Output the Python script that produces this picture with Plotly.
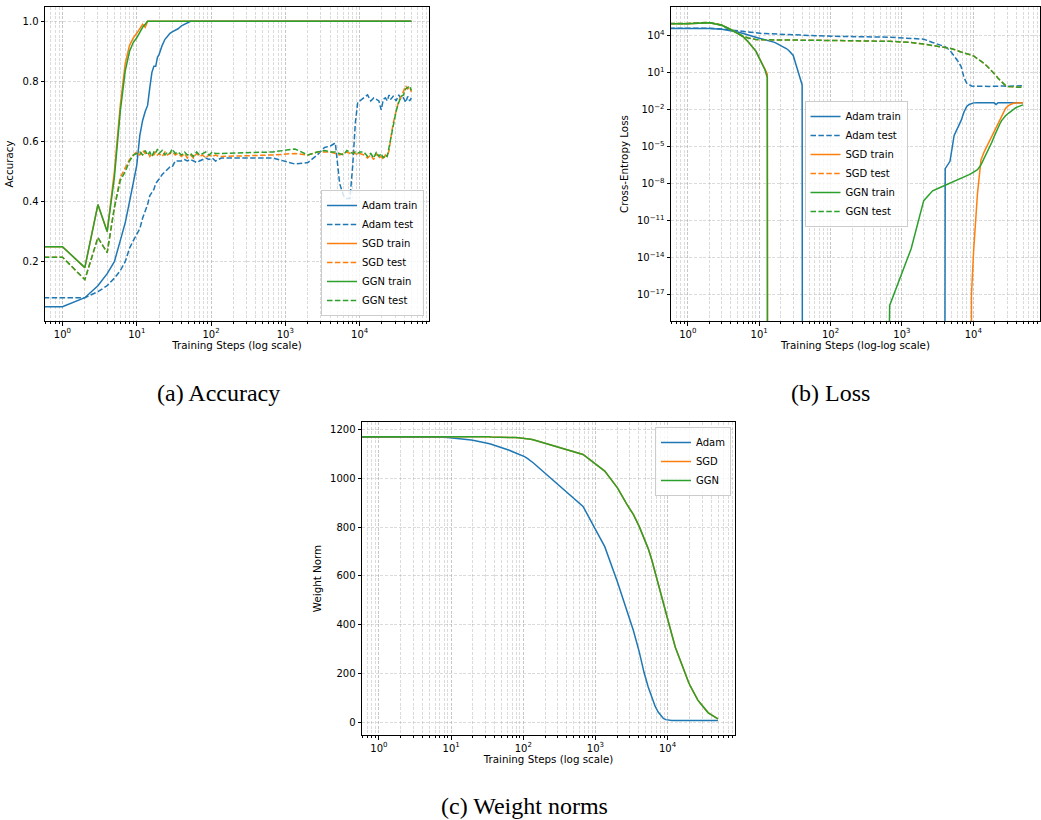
import numpy as np
import plotly.graph_objects as go

# ---------------------------------------------------------------------------
# Logged training steps (dense early, then every 673 steps)
# ---------------------------------------------------------------------------
steps = [
    0, 1, 2, 3, 4, 5, 6, 7, 8, 9,
    10, 11, 12, 13, 14, 15, 16, 17, 18, 19,
    20, 22, 24, 26, 28, 30, 33, 36, 40, 44,
    48, 53, 58, 64, 70, 77, 85, 94, 104, 115, 127, 137,
    673, 1346, 2019, 2692, 3365, 4038, 4711, 5384, 6057, 6730,
    7403, 8076, 8749, 9422, 10095, 11441, 12787, 14133, 15479, 16825,
    18171, 19517, 20863, 22209, 23555, 24901, 26247, 28266, 30958, 33650,
    36342, 39034, 41726, 44418, 47110, 49802,
]

# ---------------------------------------------------------------------------
# Accuracy
# ---------------------------------------------------------------------------
adam_train_acc = [
    0.05, 0.05, 0.08, 0.12, 0.16, 0.20, 0.27, 0.33, 0.40, 0.46,
    0.52, 0.62, 0.67, 0.70, 0.72, 0.78, 0.83, 0.85, 0.85, 0.88,
    0.89, 0.92, 0.94, 0.95, 0.96, 0.965, 0.97, 0.975, 0.985, 0.99,
    0.995, 1.0, 1.0, 1.0, 1.0, 1.0, 1.0, 1.0, 1.0, 1.0, 1.0, 1.0,
    1.0, 1.0, 1.0, 1.0, 1.0, 1.0, 1.0, 1.0, 1.0, 1.0,
    1.0, 1.0, 1.0, 1.0, 1.0, 1.0, 1.0, 1.0, 1.0, 1.0,
    1.0, 1.0, 1.0, 1.0, 1.0, 1.0, 1.0, 1.0, 1.0, 1.0,
    1.0, 1.0, 1.0, 1.0, 1.0, 1.0,
]
adam_test_acc = [
    0.08, 0.08, 0.08, 0.10, 0.12, 0.145, 0.17, 0.20, 0.245, 0.27,
    0.29, 0.31, 0.345, 0.37, 0.39, 0.42, 0.43, 0.44, 0.46, 0.47,
    0.475, 0.49, 0.50, 0.51, 0.515, 0.515, 0.535, 0.535, 0.535, 0.54,
    0.535, 0.54, 0.535, 0.53, 0.535, 0.54, 0.545, 0.54, 0.545, 0.535, 0.54, 0.545,
    0.545, 0.525, 0.53, 0.555, 0.58, 0.585, 0.595, 0.46, 0.42, 0.41,
    0.41, 0.52, 0.66, 0.73, 0.735, 0.745, 0.755, 0.735, 0.745, 0.74,
    0.735, 0.705, 0.74, 0.745, 0.735, 0.755, 0.74, 0.75, 0.735, 0.755,
    0.74, 0.745, 0.73, 0.75, 0.735, 0.745,
]
sgd_train_acc = [
    0.25, 0.25, 0.18, 0.39, 0.30, 0.50, 0.72, 0.86, 0.92, 0.945,
    0.96, 0.975, 0.99, 0.98, 1.0, 1.0, 1.0, 1.0, 1.0, 1.0,
    1.0, 1.0, 1.0, 1.0, 1.0, 1.0, 1.0, 1.0, 1.0, 1.0,
    1.0, 1.0, 1.0, 1.0, 1.0, 1.0, 1.0, 1.0, 1.0, 1.0, 1.0, 1.0,
    1.0, 1.0, 1.0, 1.0, 1.0, 1.0, 1.0, 1.0, 1.0, 1.0,
    1.0, 1.0, 1.0, 1.0, 1.0, 1.0, 1.0, 1.0, 1.0, 1.0,
    1.0, 1.0, 1.0, 1.0, 1.0, 1.0, 1.0, 1.0, 1.0, 1.0,
    1.0, 1.0, 1.0, 1.0, 1.0, 1.0,
]
sgd_test_acc = [
    0.215, 0.215, 0.14, 0.28, 0.23, 0.38, 0.48, 0.51, 0.54, 0.555,
    0.565, 0.555, 0.57, 0.56, 0.565, 0.55, 0.56, 0.555, 0.565, 0.555,
    0.56, 0.55, 0.565, 0.555, 0.56, 0.565, 0.555, 0.56, 0.55, 0.56,
    0.545, 0.555, 0.545, 0.56, 0.55, 0.555, 0.545, 0.555, 0.55, 0.555, 0.55, 0.55,
    0.555, 0.56, 0.555, 0.565, 0.565, 0.565, 0.56, 0.555, 0.56, 0.565,
    0.56, 0.565, 0.56, 0.555, 0.56, 0.555, 0.545, 0.555, 0.54, 0.56,
    0.545, 0.55, 0.54, 0.555, 0.55, 0.57, 0.61, 0.66, 0.70, 0.735,
    0.75, 0.77, 0.785, 0.775, 0.78, 0.765,
]
ggn_train_acc = [
    0.25, 0.25, 0.18, 0.39, 0.30, 0.48, 0.70, 0.835, 0.90, 0.93,
    0.945, 0.965, 0.98, 0.99, 1.0, 1.0, 1.0, 1.0, 1.0, 1.0,
    1.0, 1.0, 1.0, 1.0, 1.0, 1.0, 1.0, 1.0, 1.0, 1.0,
    1.0, 1.0, 1.0, 1.0, 1.0, 1.0, 1.0, 1.0, 1.0, 1.0, 1.0, 1.0,
    1.0, 1.0, 1.0, 1.0, 1.0, 1.0, 1.0, 1.0, 1.0, 1.0,
    1.0, 1.0, 1.0, 1.0, 1.0, 1.0, 1.0, 1.0, 1.0, 1.0,
    1.0, 1.0, 1.0, 1.0, 1.0, 1.0, 1.0, 1.0, 1.0, 1.0,
    1.0, 1.0, 1.0, 1.0, 1.0, 1.0,
]
ggn_test_acc = [
    0.215, 0.215, 0.14, 0.28, 0.23, 0.38, 0.47, 0.50, 0.535, 0.555,
    0.56, 0.565, 0.555, 0.57, 0.555, 0.565, 0.55, 0.565, 0.56, 0.575,
    0.56, 0.57, 0.555, 0.565, 0.56, 0.575, 0.56, 0.565, 0.555, 0.565,
    0.555, 0.56, 0.55, 0.565, 0.555, 0.56, 0.565, 0.555, 0.565, 0.56, 0.56, 0.56,
    0.565, 0.575, 0.555, 0.565, 0.57, 0.565, 0.565, 0.56, 0.555, 0.57,
    0.565, 0.56, 0.565, 0.56, 0.565, 0.565, 0.55, 0.56, 0.545, 0.565,
    0.55, 0.56, 0.545, 0.555, 0.55, 0.58, 0.62, 0.66, 0.70, 0.73,
    0.75, 0.755, 0.775, 0.78, 0.785, 0.77,
]

# ---------------------------------------------------------------------------
# Cross-entropy loss (0 means the loss underflowed to exactly zero)
# ---------------------------------------------------------------------------
adam_train_loss = [
    4.27e4, 4.17e4, 3.8e4, 3.31e4, 2.63e4, 2.0e4, 1.51e4, 1.12e4, 8.9e3, 7.2e3,
    6.2e3, 5.5e3, 4.9e3, 4.4e3, 3.9e3, 3.4e3, 3.0e3, 2.6e3, 2.2e3, 1.9e3,
    1.66e3, 1.26e3, 910, 630, 420, 250, 40, 7.6, 1.0, 0,
    0, 0, 0, 0, 0, 0, 0, 0, 0, 0, 0, 0,
    0, 0, 0, 0, 0, 1.6e-7, 6.3e-7, 7.9e-5, 3.2e-4, 1.26e-3,
    6.3e-3, 1.8e-2, 2.6e-2, 3.2e-2, 3.5e-2, 3.6e-2, 3.6e-2, 3.6e-2, 3.6e-2, 3.6e-2,
    3.6e-2, 3.5e-2, 2.6e-2, 3.6e-2, 3.6e-2, 3.6e-2, 3.6e-2, 3.6e-2, 3.6e-2, 3.6e-2,
    3.6e-2, 3.6e-2, 3.6e-2, 3.6e-2, 3.6e-2, 3.6e-2,
]
adam_test_loss = [
    4.27e4, 4.17e4, 3.98e4, 3.55e4, 2.88e4, 2.4e4, 2.09e4, 1.9e4, 1.78e4, 1.66e4,
    1.58e4, 1.51e4, 1.48e4, 1.45e4, 1.41e4, 1.38e4, 1.35e4, 1.32e4, 1.29e4, 1.26e4,
    1.23e4, 1.17e4, 1.15e4, 1.12e4, 1.10e4, 1.07e4, 1.05e4, 1.02e4, 1.0e4, 9.8e3,
    9.8e3, 9.5e3, 9.5e3, 9.3e3, 9.3e3, 9.1e3, 9.1e3, 9.1e3, 8.9e3, 8.9e3, 8.9e3, 8.7e3,
    7.6e3, 6.3e3, 5.2e3, 2.8e3, 1.9e3, 1.26e3, 630, 250, 89, 32,
    4.0, 1.41, 1.0, 0.83, 0.79, 0.76, 0.79, 0.78, 0.79, 0.76,
    0.79, 0.81, 0.76, 0.79, 0.78, 0.79, 0.81, 0.79, 0.78, 0.79,
    0.81, 0.79, 0.79, 0.83, 0.85, 1.0,
]
sgd_train_loss = [
    8.9e4, 9.3e4, 1.12e5, 7.1e4, 3.2e4, 1.58e4, 7.9e3, 3.2e3, 1.41e3, 560,
    160, 60, 20, 7.9, 0, 0, 0, 0, 0, 0,
    0, 0, 0, 0, 0, 0, 0, 0, 0, 0,
    0, 0, 0, 0, 0, 0, 0, 0, 0, 0, 0, 0,
    0, 0, 0, 0, 0, 0, 0, 0, 0, 0,
    0, 0, 0, 1.0e-17, 3.2e-14, 1.58e-9, 7.9e-7, 3.5e-6, 1.0e-5, 2.5e-5,
    6.3e-5, 1.41e-4, 3.2e-4, 7.1e-4, 1.41e-3, 2.8e-3, 5.6e-3, 1.26e-2, 2.1e-2, 2.8e-2,
    3.2e-2, 3.4e-2, 3.5e-2, 3.6e-2, 3.6e-2, 3.6e-2,
]
sgd_test_loss = [
    1.0e5, 1.0e5, 1.2e5, 7.4e4, 3.1e4, 1.55e4, 9.0e3, 6.6e3, 5.5e3, 5.0e3,
    4.7e3, 4.6e3, 4.6e3, 4.5e3, 4.6e3, 4.5e3, 4.5e3, 4.6e3, 4.5e3, 4.5e3,
    4.5e3, 4.4e3, 4.5e3, 4.4e3, 4.4e3, 4.4e3, 4.3e3, 4.4e3, 4.3e3, 4.3e3,
    4.3e3, 4.2e3, 4.3e3, 4.2e3, 4.2e3, 4.2e3, 4.2e3, 4.1e3, 4.1e3, 4.1e3, 4.0e3, 4.0e3,
    3.5e3, 2.8e3, 2.1e3, 1.66e3, 1.41e3, 1.2e3, 950, 760, 560, 480,
    400, 355, 316, 263, 224, 141, 89, 56, 35, 22,
    14, 8.9, 5.6, 3.5, 2.4, 1.66, 1.2, 0.89, 0.76, 0.71,
    0.68, 0.66, 0.65, 0.65, 0.63, 0.63,
]
ggn_train_loss = [
    8.9e4, 9.3e4, 1.12e5, 7.1e4, 3.2e4, 1.58e4, 7.9e3, 3.2e3, 1.41e3, 560,
    160, 56, 18, 4.0, 0, 0, 0, 0, 0, 0,
    0, 0, 0, 0, 0, 0, 0, 0, 0, 0,
    0, 0, 0, 0, 0, 0, 0, 0, 0, 0, 0, 0,
    1.26e-18, 5.0e-14, 4.0e-10, 2.5e-9, 4.5e-9, 7.1e-9, 1.0e-8, 1.41e-8, 2.0e-8, 2.6e-8,
    3.3e-8, 4.2e-8, 5.2e-8, 6.6e-8, 8.3e-8, 1.32e-7, 3.2e-7, 1.0e-6, 2.8e-6, 7.9e-6,
    2.2e-5, 6.3e-5, 1.58e-4, 3.5e-4, 7.1e-4, 1.26e-3, 2.0e-3, 3.2e-3, 5.0e-3, 7.6e-3,
    1.05e-2, 1.35e-2, 1.66e-2, 1.95e-2, 2.2e-2, 2.4e-2,
]
ggn_test_loss = [
    1.0e5, 1.0e5, 1.2e5, 7.1e4, 3.0e4, 1.51e4, 8.9e3, 6.6e3, 5.5e3, 5.0e3,
    4.7e3, 4.6e3, 4.6e3, 4.5e3, 4.6e3, 4.5e3, 4.5e3, 4.6e3, 4.5e3, 4.5e3,
    4.5e3, 4.4e3, 4.5e3, 4.4e3, 4.4e3, 4.4e3, 4.3e3, 4.4e3, 4.3e3, 4.3e3,
    4.3e3, 4.2e3, 4.3e3, 4.2e3, 4.2e3, 4.2e3, 4.2e3, 4.1e3, 4.1e3, 4.1e3, 4.0e3, 4.0e3,
    3.5e3, 2.8e3, 2.1e3, 1.66e3, 1.41e3, 1.2e3, 950, 760, 560, 480,
    400, 355, 316, 263, 224, 141, 89, 56, 35, 22,
    14, 8.9, 5.6, 3.5, 2.4, 1.66, 1.2, 0.89, 0.76, 0.71,
    0.68, 0.66, 0.65, 0.65, 0.63, 0.63,
]

# ---------------------------------------------------------------------------
# Weight norms
# ---------------------------------------------------------------------------
adam_norm = [
    1171, 1171, 1171, 1171, 1170, 1170, 1169, 1169, 1168, 1167,
    1166, 1165, 1164, 1163, 1162, 1161, 1160, 1159, 1158, 1157,
    1156, 1154, 1152, 1150, 1148, 1146, 1143, 1140, 1136, 1132,
    1128, 1124, 1120, 1115, 1110, 1105, 1100, 1095, 1089, 1081, 1072, 1064,
    885, 720, 575, 463, 375, 290, 205, 145, 100, 65,
    42, 26, 16, 11, 9, 7.5, 7, 7, 7, 7,
    7, 9, 7, 7, 7, 7, 7, 7, 7, 7,
    7, 7, 7, 7, 7, 7,
]
sgd_norm = [
    1171, 1172, 1173, 1174, 1174, 1174, 1173, 1173, 1173, 1172,
    1172, 1172, 1172, 1172, 1172, 1172, 1172, 1172, 1172, 1171,
    1171, 1171, 1171, 1171, 1171, 1171, 1171, 1170, 1170, 1170,
    1170, 1169, 1169, 1168, 1168, 1167, 1166, 1165, 1163, 1162, 1160, 1158,
    1098, 1030, 961, 896, 851, 803, 757, 712, 664, 612,
    566, 523, 484, 449, 417, 360, 308, 272, 239, 209,
    182, 164, 146, 130, 115, 101, 91, 79, 63, 49,
    40, 34, 29, 24, 19, 14,
]
ggn_norm = [
    1171, 1172, 1173, 1174, 1174, 1174, 1173, 1173, 1173, 1172,
    1172, 1172, 1172, 1172, 1172, 1172, 1172, 1172, 1172, 1171,
    1171, 1171, 1171, 1171, 1171, 1171, 1171, 1170, 1170, 1170,
    1170, 1169, 1169, 1168, 1168, 1167, 1166, 1165, 1163, 1162, 1160, 1158,
    1098, 1030, 961, 896, 851, 803, 757, 712, 664, 612,
    566, 523, 484, 449, 417, 360, 308, 272, 239, 209,
    182, 164, 146, 130, 115, 101, 91, 79, 63, 49,
    40, 34, 29, 24, 19, 14,
]

x_ticks = [1, 10, 100, 1000, 10000]
x_ticktext = ["10<sup>0</sup>", "10<sup>1</sup>", "10<sup>2</sup>",
              "10<sup>3</sup>", "10<sup>4</sup>"]
acc_ticks = [0.2, 0.4, 0.6, 0.8, 1.0]
acc_ticktext = ["0.2", "0.4", "0.6", "0.8", "1.0"]
loss_ticks = [1e4, 1e1, 1e-2, 1e-5, 1e-8, 1e-11, 1e-14, 1e-17]
loss_ticktext = ["10<sup>4</sup>", "10<sup>1</sup>", "10<sup>\u22122</sup>",
                 "10<sup>\u22125</sup>", "10<sup>\u22128</sup>",
                 "10<sup>\u221211</sup>", "10<sup>\u221214</sup>",
                 "10<sup>\u221217</sup>"]
norm_ticks = [0, 200, 400, 600, 800, 1000, 1200]
norm_ticktext = ["0", "200", "400", "600", "800", "1000", "1200"]

# ---------------------------------------------------------------------------
BLUE, ORANGE, GREEN = "#1f77b4", "#ff7f0e", "#2ca02c"
DASH = "5.5px,2.4px"
FONT = "DejaVu Sans"
GRID = "rgba(176,176,176,0.45)"
GRID_DASH = "3px,1.6px"


def clip_nonpositive(values):
    """Non-positive values are pushed far below any log-axis range."""
    arr = np.asarray(values, dtype=float)
    return np.where(arr > 0, arr, 1e-300)


x_log = clip_nonpositive(steps)

fig = go.Figure()

acc_series = [
    ("Adam train", adam_train_acc, BLUE, "solid"),
    ("Adam test", adam_test_acc, BLUE, DASH),
    ("SGD train", sgd_train_acc, ORANGE, "solid"),
    ("SGD test", sgd_test_acc, ORANGE, DASH),
    ("GGN train", ggn_train_acc, GREEN, "solid"),
    ("GGN test", ggn_test_acc, GREEN, DASH),
]
for name, vals, color, dash in acc_series:
    fig.add_trace(go.Scatter(
        x=x_log, y=vals, mode="lines", name=name,
        line=dict(color=color, width=1.5, dash=dash),
        xaxis="x", yaxis="y", legend="legend",
    ))

loss_series = [
    ("Adam train", adam_train_loss, BLUE, "solid"),
    ("Adam test", adam_test_loss, BLUE, DASH),
    ("SGD train", sgd_train_loss, ORANGE, "solid"),
    ("SGD test", sgd_test_loss, ORANGE, DASH),
    ("GGN train", ggn_train_loss, GREEN, "solid"),
    ("GGN test", ggn_test_loss, GREEN, DASH),
]
for name, vals, color, dash in loss_series:
    fig.add_trace(go.Scatter(
        x=x_log, y=clip_nonpositive(vals), mode="lines", name=name,
        line=dict(color=color, width=1.5, dash=dash),
        xaxis="x2", yaxis="y2", legend="legend2",
    ))

norm_series = [
    ("Adam", adam_norm, BLUE),
    ("SGD", sgd_norm, ORANGE),
    ("GGN", ggn_norm, GREEN),
]
for name, vals, color in norm_series:
    fig.add_trace(go.Scatter(
        x=x_log, y=vals, mode="lines", name=name,
        line=dict(color=color, width=1.5),
        xaxis="x3", yaxis="y3", legend="legend3",
    ))

W, H = 1041, 820


def px_x(p):
    return p / W


def px_y(p):
    return 1 - p / H


common_axis = dict(
    showline=True, linecolor="black", linewidth=1, mirror=True,
    ticks="outside", ticklen=3.5, tickwidth=0.8, tickcolor="black",
    tickfont=dict(family=FONT, size=10, color="black"),
    showgrid=True, gridcolor=GRID, gridwidth=0.8, griddash=GRID_DASH,
    zeroline=False, automargin=False,
)
minor_log = dict(
    ticks="outside", ticklen=2, tickwidth=0.6, tickcolor="black",
    showgrid=True, gridcolor=GRID, gridwidth=0.6, griddash=GRID_DASH,
    dtick="D1",
)
x_range = [-0.235, 4.934]
TITLE_FONT = dict(family=FONT, size=10.3, color="black")


def x_axis(domain, anchor, title):
    return dict(
        common_axis, type="log", range=x_range, domain=domain, anchor=anchor,
        tickmode="array", tickvals=x_ticks, ticktext=x_ticktext,
        minor=minor_log,
        title=dict(text=title, font=TITLE_FONT, standoff=3),
    )


legend_common = dict(
    bgcolor="rgba(255,255,255,0.8)", bordercolor="#cccccc", borderwidth=1,
    font=dict(family=FONT, size=10, color="black"), itemwidth=30,
    tracegroupgap=0,
)

fig.update_layout(
    width=W, height=H, autosize=False,
    margin=dict(l=0, r=0, t=0, b=0),
    paper_bgcolor="white", plot_bgcolor="white",
    xaxis=x_axis([px_x(45), px_x(429)], "y", "Training Steps (log scale)"),
    yaxis=dict(
        common_axis, range=[0.0025, 1.0475], domain=[px_y(321), px_y(7)],
        anchor="x", tickmode="array", tickvals=acc_ticks, ticktext=acc_ticktext,
        title=dict(text="Accuracy", font=TITLE_FONT, standoff=6),
    ),
    xaxis2=x_axis([px_x(671), px_x(1040)], "y2", "Training Steps (log-log scale)"),
    yaxis2=dict(
        common_axis, type="log", range=[-19.17, 6.33],
        domain=[px_y(321), px_y(7)], anchor="x2",
        tickmode="array", tickvals=loss_ticks, ticktext=loss_ticktext,
        title=dict(text="Cross-Entropy Loss", font=TITLE_FONT, standoff=6),
    ),
    xaxis3=x_axis([px_x(362), px_x(735)], "y3", "Training Steps (log scale)"),
    yaxis3=dict(
        common_axis, range=[-52, 1231], domain=[px_y(735), px_y(422)],
        anchor="x3", tickmode="array", tickvals=norm_ticks, ticktext=norm_ticktext,
        title=dict(text="Weight Norm", font=TITLE_FONT, standoff=6),
    ),
    legend=dict(legend_common, x=px_x(424), y=px_y(316),
                xanchor="right", yanchor="bottom"),
    legend2=dict(legend_common, x=px_x(856), y=px_y(164),
                 xanchor="center", yanchor="middle"),
    legend3=dict(legend_common, x=px_x(731), y=px_y(427),
                 xanchor="right", yanchor="top"),
    showlegend=True,
)

captions = [
    ("(a) Accuracy", 218, 393),
    ("(b) Loss", 830, 393),
    ("(c) Weight norms", 524, 806),
]
for text, cx, cy in captions:
    fig.add_annotation(
        text=text, x=px_x(cx), y=px_y(cy), xref="paper", yref="paper",
        xanchor="center", yanchor="middle", showarrow=False,
        font=dict(family="Liberation Serif", size=24, color="black"),
    )

fig.write_html("out.html")
